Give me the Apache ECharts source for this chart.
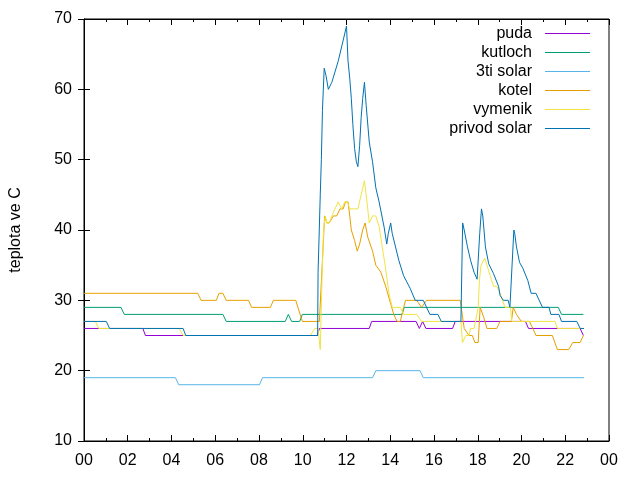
<!DOCTYPE html>
<html>
<head>
<meta charset="utf-8">
<script src="https://cdn.jsdelivr.net/npm/echarts@6/dist/echarts.min.js"></script>
<style>
  html, body { margin: 0; padding: 0; background: #fff; }
  #chart { width: 640px; height: 480px; }
</style>
</head>
<body>
<div id="chart"></div>
<script>
// hours of the day, temperature in °C
const seriesNames = ['puda', 'kutloch', '3ti solar', 'kotel', 'vymenik', 'privod solar'];
const seriesColors = ['#9400d3', '#009e73', '#56b4e9', '#e69f00', '#f0e442', '#0072b2'];

const puda = [
  [0, 26], [2.69, 26], [2.81, 25], [10.67, 25], [10.76, 26], [13.04, 26], [13.15, 27],
  [15.18, 27], [15.33, 26], [15.48, 27], [15.63, 26], [16.85, 26], [16.97, 27],
  [20.18, 27], [20.32, 26], [22.68, 26], [22.83, 25]
];

const kutloch = [
  [0, 29], [1.69, 29], [1.84, 28], [6.35, 28], [6.5, 27], [9.2, 27], [9.34, 28],
  [9.49, 27], [9.86, 27], [9.98, 28], [14.54, 28], [14.64, 29], [21.68, 29],
  [21.83, 28], [22.83, 28]
];

const tretiSolar = [
  [0, 19], [4.18, 19], [4.33, 18], [8.02, 18], [8.16, 19], [13.19, 19], [13.34, 20],
  [15.36, 20], [15.51, 19], [22.86, 19]
];

const kotel = [
  [0, 31], [5.2, 31], [5.35, 30], [6.05, 30], [6.17, 31], [6.35, 31], [6.5, 30],
  [7.52, 30], [7.66, 29], [8.52, 29], [8.66, 30], [9.68, 30], [9.98, 27], [10.76, 27],
  [11.0, 42], [11.1, 41], [11.21, 41], [11.4, 42], [11.55, 42], [11.7, 43], [11.85, 43],
  [11.95, 44], [12.07, 44], [12.15, 42], [12.22, 40], [12.37, 38.5], [12.49, 37],
  [12.6, 38], [12.74, 40], [12.85, 41], [12.97, 39], [13.19, 37], [13.34, 35],
  [13.57, 34], [13.79, 32], [14.02, 29.5], [14.16, 28], [14.31, 27], [14.46, 27],
  [14.61, 29], [14.7, 30], [15.21, 30], [15.43, 29], [15.66, 30], [17.2, 30],
  [17.38, 26], [17.45, 26], [17.6, 25], [17.75, 25], [17.87, 24], [18.02, 24],
  [18.11, 29], [18.15, 29], [18.27, 27.6], [18.42, 26], [18.87, 26], [19.02, 27],
  [19.54, 27], [19.62, 29], [19.77, 28], [19.99, 27], [20.36, 27], [20.52, 26],
  [20.66, 25], [21.41, 25], [21.64, 23], [22.16, 23], [22.34, 24], [22.68, 24],
  [22.83, 25]
];

const vymenik = [
  [0, 27], [0.52, 27], [0.67, 26], [4.35, 26], [4.53, 25], [10.35, 25], [10.55, 26],
  [10.7, 26], [10.8, 23], [10.88, 33], [10.95, 40], [11.03, 42], [11.1, 41],
  [11.21, 41], [11.4, 42.5], [11.62, 44], [11.78, 43], [11.92, 44], [12.04, 44],
  [12.15, 43], [12.37, 43], [12.52, 43], [12.67, 45], [12.82, 47], [12.9, 45],
  [13.04, 41], [13.19, 42], [13.34, 42], [13.49, 40.5], [13.64, 37.5], [13.79, 34.5],
  [13.94, 31], [14.09, 29], [14.46, 29], [14.61, 28], [15.21, 28], [15.43, 27],
  [17.23, 27], [17.3, 24], [17.45, 25], [17.6, 25], [17.67, 26], [17.83, 26],
  [18.02, 29], [18.08, 33], [18.15, 35], [18.23, 35.5], [18.32, 36], [18.42, 35],
  [18.57, 33.5], [18.72, 32], [18.87, 32], [19.02, 31], [19.09, 31], [19.24, 29],
  [19.5, 29], [19.55, 27], [21.53, 27], [21.64, 26], [22.83, 26]
];

const privodSolar = [
  [0, 27], [1.02, 27], [1.17, 26], [4.53, 26], [4.65, 25], [10.68, 25], [10.7, 34],
  [10.8, 45], [10.85, 50], [10.9, 57], [10.98, 63], [11.06, 62], [11.17, 60],
  [11.33, 61], [11.62, 64], [11.85, 67], [12.0, 69], [12.03, 69], [12.07, 64],
  [12.15, 61.5], [12.22, 58.7], [12.29, 55], [12.37, 51.6], [12.45, 49.7], [12.52, 49],
  [12.6, 52], [12.67, 56], [12.74, 58.7], [12.82, 61], [12.9, 57.7], [13.04, 52.5],
  [13.19, 49.7], [13.34, 46], [13.49, 44], [13.72, 40.4], [13.84, 38], [13.91, 39.5],
  [14.02, 41], [14.09, 39.5], [14.39, 35.7], [14.61, 33.5], [14.91, 31.7], [15.14, 30],
  [15.51, 30], [15.81, 28], [16.18, 28], [16.33, 27], [17.23, 27], [17.31, 41],
  [17.38, 40], [17.53, 37.6], [17.67, 35.7], [17.83, 34], [17.97, 33], [18.09, 39.5],
  [18.17, 43], [18.23, 42], [18.35, 37.6], [18.5, 35.2], [18.72, 33.8], [18.95, 32],
  [19.02, 30.7], [19.17, 30], [19.39, 30], [19.47, 29], [19.65, 40], [19.69, 39.5],
  [19.77, 37.6], [19.91, 35.4], [20.07, 34.5], [20.29, 32.8], [20.44, 31], [20.66, 31],
  [20.96, 29], [21.26, 29], [21.34, 28], [21.71, 28], [21.83, 27], [22.53, 27],
  [22.68, 26], [22.86, 26]
];

const seriesData = [puda, kutloch, tretiSolar, kotel, vymenik, privodSolar];

const fontFamily = '"Liberation Sans", Arial, sans-serif';
const hourLabel = (v) => String(v % 24).padStart(2, '0');

const chart = echarts.init(document.getElementById('chart'), null, { renderer: 'canvas' });

const xBase = {
  type: 'value',
  min: 0,
  max: 24,
  interval: 2,
  splitLine: { show: false },
  axisLine: { lineStyle: { color: '#000', width: 1 } },
  axisTick: { inside: true, length: 6, lineStyle: { color: '#000' } },
  minorTick: { show: true, splitNumber: 2, length: 3, lineStyle: { color: '#000' } }
};
const yBase = {
  type: 'value',
  min: 10,
  max: 70,
  interval: 10,
  splitLine: { show: false },
  axisLine: { show: true, lineStyle: { color: '#000', width: 1 } },
  axisTick: { show: true, inside: true, length: 6, lineStyle: { color: '#000' } }
};

chart.setOption({
  animation: false,
  backgroundColor: '#fff',
  textStyle: { fontFamily, color: '#000' },
  grid: { left: 74, right: 31, top: 19, bottom: 39, show: true, borderColor: '#000', borderWidth: 1 },
  legend: {
    orient: 'vertical',
    align: 'right',
    right: 50,
    top: 24,
    padding: 0,
    icon: 'rect',
    itemWidth: 45,
    itemHeight: 1,
    itemGap: 0,
    textStyle: { fontFamily, fontSize: 16, lineHeight: 19, color: '#000', padding: [0, 8, 0, 0] },
    data: seriesNames
  },
  xAxis: [
    {
      ...xBase,
      position: 'bottom',
      axisLabel: { color: '#000', fontSize: 16, margin: 12, formatter: hourLabel }
    },
    { ...xBase, position: 'top', axisLabel: { show: false } }
  ],
  yAxis: [
    {
      ...yBase,
      position: 'left',
      name: 'teplota ve C',
      nameLocation: 'middle',
      nameGap: 60,
      nameRotate: 90,
      nameTextStyle: { fontFamily, fontSize: 16, color: '#000' },
      axisLabel: { color: '#000', fontSize: 16, margin: 12 }
    },
    { ...yBase, position: 'right', axisLabel: { show: false } }
  ],
  series: seriesNames.map((name, i) => ({
    name,
    type: 'line',
    data: seriesData[i],
    symbol: 'none',
    lineStyle: { color: seriesColors[i], width: 1 },
    itemStyle: { color: seriesColors[i] }
  }))
});
</script>
</body>
</html>
